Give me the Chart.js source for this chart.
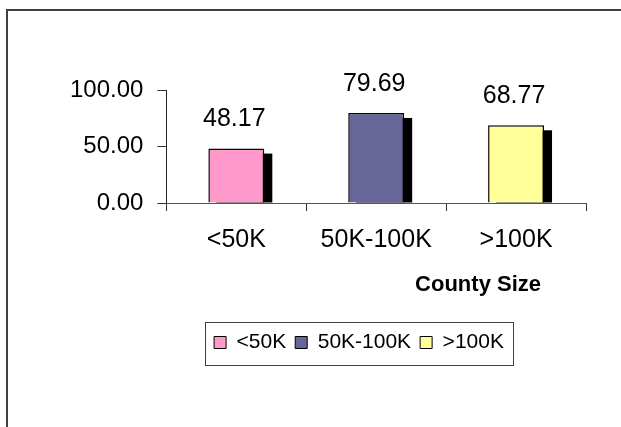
<!DOCTYPE html>
<html>
<head>
<meta charset="utf-8">
<script src="https://cdn.jsdelivr.net/npm/chart.js"></script>
<style>
  html, body { margin: 0; padding: 0; background: #fff; overflow: hidden; }
  #wrap { position: relative; width: 621px; height: 427px; overflow: hidden; }
  #chart_dest { position: absolute; left: 0; top: 0; }
  #frame {
    position: absolute; left: 6px; top: 9px; right: -10px; bottom: -10px;
    border-left: 2px solid #404040; border-top: 2px solid #404040;
    pointer-events: none;
  }
</style>
</head>
<body>
<div id="wrap">
  <canvas id="chart_dest" width="662" height="427"></canvas>
  <div id="frame"></div>
</div>
<script>
// data
var categories = ['<50K', '50K-100K', '>100K'];
var values = [48.17, 79.69, 68.77];
var barColors = ['#FF99CC', '#666699', '#FFFF99'];
var yTicks = [0, 50, 100];
var xTitle = 'County Size';

var FONT = '"Liberation Sans", Arial, sans-serif';

// excel style drop shadow behind each bar
var shadowPlugin = {
  id: 'barShadow',
  beforeDatasetsDraw: function (chart) {
    var ctx = chart.ctx;
    var meta = chart.getDatasetMeta(0);
    ctx.save();
    ctx.fillStyle = '#000';
    meta.data.forEach(function (bar) {
      var w = bar.width;
      ctx.fillRect(bar.x - w / 2 + 8, bar.y + 5, w, bar.base - bar.y - 5);
    });
    ctx.restore();
  }
};

// value labels, axis title and legend frame
var extrasPlugin = {
  id: 'extras',
  afterDatasetsDraw: function (chart) {
    var ctx = chart.ctx;
    var meta = chart.getDatasetMeta(0);
    ctx.save();
    ctx.fillStyle = '#000';
    ctx.font = '25px ' + FONT;
    ctx.textAlign = 'center';
    ctx.textBaseline = 'middle';
    meta.data.forEach(function (bar, i) {
      ctx.fillText(values[i].toFixed(2), bar.x - 2, bar.y - 29);
    });
    ctx.restore();
  },
  afterDraw: function (chart) {
    var ctx = chart.ctx;
    var area = chart.chartArea;
    ctx.save();
    ctx.fillStyle = '#000';
    ctx.font = 'bold 22px ' + FONT;
    ctx.textAlign = 'right';
    ctx.textBaseline = 'middle';
    ctx.fillText(xTitle, area.right - 45, area.bottom + 82);

    var boxes = chart.legend.legendHitBoxes;
    if (boxes && boxes.length) {
      var l = Math.min.apply(null, boxes.map(function (b) { return b.left; }));
      var r = Math.max.apply(null, boxes.map(function (b) { return b.left + b.width; }));
      ctx.strokeStyle = '#404040';
      ctx.lineWidth = 1;
      ctx.strokeRect(Math.round(l) - 8.5, Math.round(chart.legend.top) - 0.5, Math.round(r - l) + 18, 43);
    }
    ctx.restore();
  }
};

var data = {
  labels: categories,
  datasets: [{
    data: values,
    backgroundColor: barColors,
    borderColor: '#000',
    borderWidth: 1.5,
    barPercentage: 0.4,
    categoryPercentage: 1.0
  }]
};

var options = {
  responsive: false,
  animation: false,
  devicePixelRatio: 1,
  layout: { padding: { left: 56, right: 0, top: 90, bottom: 64 } },
  plugins: {
    tooltip: { enabled: false },
    legend: {
      position: 'bottom',
      labels: {
        boxWidth: 12,
        boxHeight: 12,
        padding: 9,
        color: '#000',
        font: { family: FONT, size: 21 },
        generateLabels: function (chart) {
          return categories.map(function (c, i) {
            return {
              text: c,
              fillStyle: barColors[i],
              strokeStyle: '#000',
              lineWidth: 1,
              index: i
            };
          });
        }
      }
    }
  },
  scales: {
    x: {
      grid: {
        offset: true,
        drawOnChartArea: false,
        tickLength: 8,
        color: '#333'
      },
      border: { color: '#555', width: 1 },
      ticks: {
        color: '#000',
        padding: 14,
        font: { family: FONT, size: 25 }
      },
      afterFit: function (s) { s.height = 120; }
    },
    y: {
      min: 0,
      max: 100,
      afterBuildTicks: function (s) {
        s.ticks = yTicks.map(function (v) { return { value: v }; });
      },
      grid: {
        drawOnChartArea: false,
        tickLength: 9,
        color: '#333'
      },
      border: { color: '#222', width: 1 },
      ticks: {
        color: '#000',
        padding: 14,
        font: { family: FONT, size: 24 },
        callback: function (v) { return Number(v).toFixed(2); }
      }
    },
    // empty right-hand scale, keeps room to the right of the plot
    yRight: {
      type: 'linear',
      position: 'right',
      display: true,
      grid: { display: false },
      border: { display: false },
      ticks: { display: false },
      afterFit: function (s) { s.width = 76; }
    }
  }
};

var ctx = document.getElementById('chart_dest');
var myBarChart = new Chart(ctx, {
  type: 'bar',
  data: data,
  options: options,
  plugins: [shadowPlugin, extrasPlugin]
});
</script>
</body>
</html>
